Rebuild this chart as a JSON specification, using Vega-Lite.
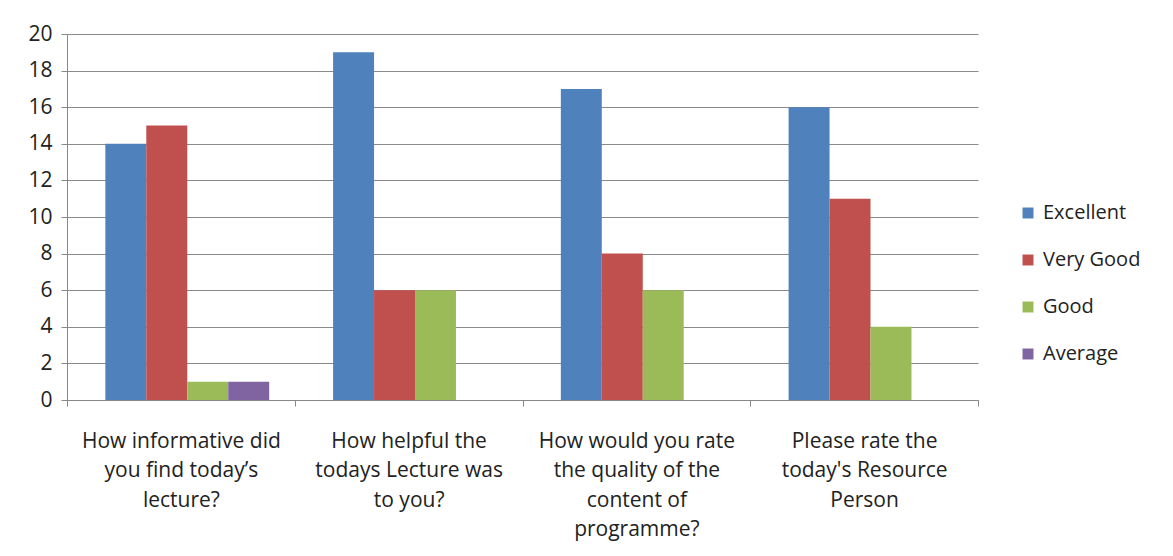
{
  "$schema": "https://vega.github.io/schema/vega-lite/v6.json",
  "autosize": "none",
  "width": 911,
  "height": 366,
  "padding": {"left": 67, "top": 34, "right": 195, "bottom": 156},
  "background": "white",
  "data": {
    "values": [
      {"question": "How informative did|you find today’s|lecture?", "rating": "Excellent", "count": 14},
      {"question": "How informative did|you find today’s|lecture?", "rating": "Very Good", "count": 15},
      {"question": "How informative did|you find today’s|lecture?", "rating": "Good", "count": 1},
      {"question": "How informative did|you find today’s|lecture?", "rating": "Average", "count": 1},
      {"question": "How helpful the|todays Lecture was|to you?", "rating": "Excellent", "count": 19},
      {"question": "How helpful the|todays Lecture was|to you?", "rating": "Very Good", "count": 6},
      {"question": "How helpful the|todays Lecture was|to you?", "rating": "Good", "count": 6},
      {"question": "How helpful the|todays Lecture was|to you?", "rating": "Average", "count": 0},
      {"question": "How would you rate|the quality of the|content of|programme?", "rating": "Excellent", "count": 17},
      {"question": "How would you rate|the quality of the|content of|programme?", "rating": "Very Good", "count": 8},
      {"question": "How would you rate|the quality of the|content of|programme?", "rating": "Good", "count": 6},
      {"question": "How would you rate|the quality of the|content of|programme?", "rating": "Average", "count": 0},
      {"question": "Please rate the|today's Resource|Person", "rating": "Excellent", "count": 16},
      {"question": "Please rate the|today's Resource|Person", "rating": "Very Good", "count": 11},
      {"question": "Please rate the|today's Resource|Person", "rating": "Good", "count": 4},
      {"question": "Please rate the|today's Resource|Person", "rating": "Average", "count": 0}
    ]
  },
  "mark": {"type": "bar"},
  "encoding": {
    "x": {
      "field": "question",
      "type": "nominal",
      "sort": null,
      "scale": {"paddingInner": 0, "paddingOuter": 0},
      "axis": {
        "title": null,
        "labelAngle": 0,
        "labelExpr": "split(datum.label, '|')",
        "labelFont": "Open Sans",
        "labelFontSize": 21,
        "labelColor": "#222222",
        "labelLineHeight": 29.5,
        "labelPadding": 24,
        "labelLimit": 0,
        "tickBand": "extent",
        "tickSize": 6,
        "tickColor": "#888888",
        "domainColor": "#888888",
        "grid": false
      }
    },
    "xOffset": {
      "field": "rating",
      "type": "nominal",
      "sort": ["Excellent", "Very Good", "Good", "Average"],
      "scale": {"paddingInner": 0, "paddingOuter": 0.78, "align": 0.6}
    },
    "y": {
      "field": "count",
      "type": "quantitative",
      "scale": {"domain": [0, 20]},
      "axis": {
        "title": null,
        "values": [0, 2, 4, 6, 8, 10, 12, 14, 16, 18, 20],
        "labelFont": "Open Sans",
        "labelFontSize": 21,
        "labelColor": "#222222",
        "labelPadding": 9,
        "tickSize": 6,
        "tickColor": "#888888",
        "domainColor": "#888888",
        "gridColor": "#8a8a8a",
        "gridWidth": 1
      }
    },
    "color": {
      "field": "rating",
      "type": "nominal",
      "sort": ["Excellent", "Very Good", "Good", "Average"],
      "scale": {
        "domain": ["Excellent", "Very Good", "Good", "Average"],
        "range": ["#4F81BD", "#C0504D", "#9BBB59", "#8064A2"]
      },
      "legend": {
        "title": null,
        "orient": "none",
        "legendX": 951,
        "legendY": 169,
        "symbolType": "square",
        "symbolSize": 120,
        "symbolStrokeWidth": 0,
        "labelFont": "Open Sans",
        "labelFontSize": 20,
        "labelColor": "#222222",
        "rowPadding": 27,
        "labelOffset": 5
      }
    }
  },
  "config": {"view": {"stroke": null}}
}
